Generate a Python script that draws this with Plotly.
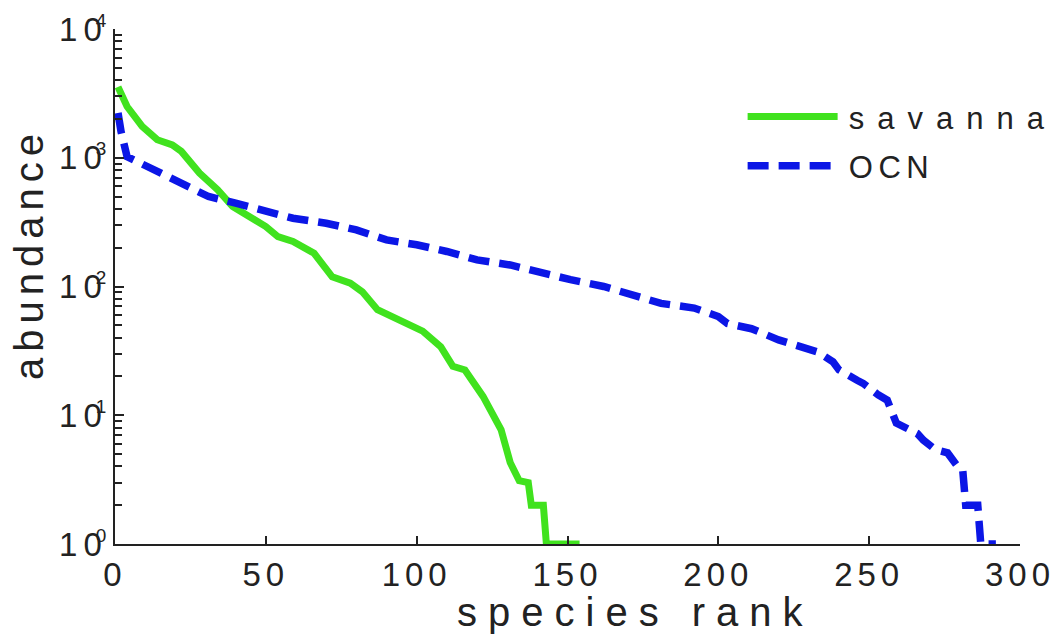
import plotly.graph_objects as go

# ---- data ----
savanna_rank = [1, 4, 9, 14, 19, 22, 28, 34, 39, 45, 50, 54, 59, 66, 69, 72, 78, 82, 87,
                94, 102, 108, 112, 116, 122, 128, 131, 134, 137, 138, 142, 143, 154]
savanna_abund = [3550, 2500, 1750, 1380, 1260, 1120, 760, 565, 418, 350, 292, 244, 224, 181,
                 143, 119, 106, 91, 66, 55, 45, 34, 24, 22.5, 14, 7.7, 4.3, 3.1, 3, 2, 2, 1, 1]

ocn_rank = [1, 2, 4, 12, 22, 31, 40, 50, 59, 70, 80, 90, 100, 110, 120, 131, 141, 151, 162,
            173, 181, 192, 200, 203, 211, 220, 229, 233, 238, 240, 246, 248, 253, 256, 259,
            266, 268, 272, 276, 279, 281, 282, 286, 287, 292]
ocn_abund = [2230, 1600, 1020, 830, 635, 500, 444, 383, 339, 310, 275, 230, 211, 187, 161,
             147, 127, 113, 100, 83, 74, 68, 58.5, 51.6, 47, 38.5, 33, 31, 26, 22.5, 18.7,
             17.7, 14.4, 13.1, 8.7, 7.2, 6.4, 5.4, 5.1, 4.1, 3.8, 2, 2, 1, 1]

x_ticks = [0, 50, 100, 150, 200, 250, 300]
y_ticks = [1, 10, 100, 1000, 10000]
y_exps = ["0", "1", "2", "3", "4"]
y_minor = [m * 10 ** d for d in range(4) for m in range(2, 10)]

FONT = "Liberation Sans, Arial, sans-serif"
INK = "#222222"


def spaced(s, px):
    return f'<span style="letter-spacing:{px}px">{s}</span>'


def pow10_label(e):
    return (spaced("1", 6) + spaced("0", -6)
            + f'<sup><span style="font-size:19px">{e}</span></sup>')


fig = go.Figure()
fig.add_trace(go.Scatter(
    x=savanna_rank, y=savanna_abund, mode="lines",
    name="\u2009" + spaced("savanna", 13), legendgroup="a",
    line=dict(color="#40e21e", width=7),
))
fig.add_trace(go.Scatter(
    x=ocn_rank, y=ocn_abund, mode="lines",
    name="\u2009" + spaced("OCN", 5.5), legendgroup="b",
    line=dict(color="#0b16e6", width=7.5, dash="21px,10px"),
))

fig.update_layout(
    width=1057, height=638,
    margin=dict(l=115, r=37, t=29, b=94, autoexpand=False),
    paper_bgcolor="white", plot_bgcolor="white",
    font=dict(family=FONT, color=INK, size=33),
    showlegend=True,
    legend=dict(x=0.6935, y=0.882, xanchor="left", yanchor="top",
                font=dict(size=31, color=INK), bgcolor="rgba(0,0,0,0)",
                itemwidth=90, tracegroupgap=6),
    xaxis=dict(range=[0, 300], tickvals=x_ticks,
               ticktext=[spaced(str(v), 5) for v in x_ticks],
               ticks="inside", ticklen=8, tickwidth=2, tickcolor=INK,
               showline=True, linecolor=INK, linewidth=2,
               showgrid=False, zeroline=False, mirror=False, automargin=False,
               tickfont=dict(size=33)),
    yaxis=dict(type="log", range=[0, 4], tickvals=y_ticks,
               ticktext=[pow10_label(e) for e in y_exps],
               ticks="inside", ticklen=9, tickwidth=2, tickcolor=INK,
               minor=dict(tickmode="array", tickvals=y_minor, ticks="inside",
                          ticklen=7, tickwidth=2, tickcolor=INK, showgrid=False),
               showline=True, linecolor=INK, linewidth=2,
               showgrid=False, zeroline=False, mirror=False, automargin=False,
               tickfont=dict(size=33)),
    annotations=[
        dict(text=spaced("species rank", 11), xref="paper", yref="paper",
             x=(635 - 115) / 905, y=(544 - 612) / 515, xanchor="center", yanchor="middle",
             showarrow=False, font=dict(size=40, color=INK)),
        dict(text=spaced("abundance", 6), xref="paper", yref="paper",
             x=(29 - 115) / 905, y=(544 - 254) / 515, xanchor="center", yanchor="middle",
             textangle=-90, showarrow=False, font=dict(size=40, color=INK)),
    ],
)

fig.write_html("out.html",
               config={"displayModeBar": False},
               post_script="document.body.style.margin='0';document.body.style.overflow='hidden';")
